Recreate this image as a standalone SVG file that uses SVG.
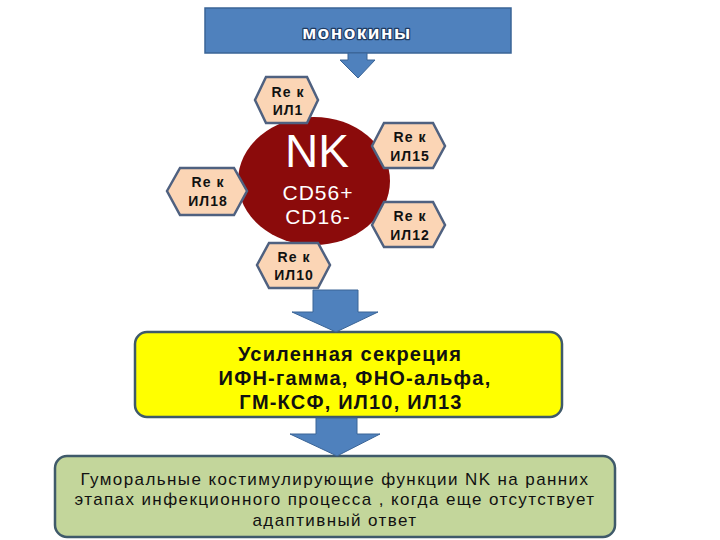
<svg xmlns="http://www.w3.org/2000/svg" width="720" height="540" viewBox="0 0 720 540">
<defs>
<style>
.arrow{fill:#4f81bd;stroke:#3a6496;stroke-width:1}
.hex{fill:#fbd5b5;stroke:#4f6180;stroke-width:2.5}
.hext{font-family:"Liberation Sans",Arial,sans-serif;font-weight:bold;font-size:14px;letter-spacing:1px;fill:#111;text-anchor:middle}
.box{font-family:"Liberation Sans",Arial,sans-serif;fill:#111;text-anchor:middle}
.cd{font-family:"Liberation Sans",Arial,sans-serif;font-size:21px;letter-spacing:1px;fill:#ffffff;text-anchor:middle}
</style>
</defs>
<rect width="720" height="540" fill="#ffffff"/>
<g id="monokines">
<rect x="205" y="8" width="306" height="45" fill="#4f81bd" stroke="#3a6496" stroke-width="1.5"/>
<text x="357" y="39" font-family="'Liberation Sans',Arial,sans-serif" font-weight="bold" font-size="19" letter-spacing="1.5" fill="#ffffff" stroke="#203c62" stroke-width="2.5" stroke-linejoin="round" paint-order="stroke" text-anchor="middle">монокины</text>
</g>
<g id="nk">
<ellipse cx="314" cy="181" rx="76" ry="64" fill="#8b0b0b"/>
<text x="317" y="167" font-family="'Liberation Sans',Arial,sans-serif" font-size="46" fill="#ffffff" text-anchor="middle">NK</text>
<text class="cd" x="318" y="200">CD56+</text>
<text class="cd" x="318" y="224">CD16-</text>
</g>
<g id="re-il1">
<polygon class="hex" points="255,100 266,77 307,77 318,100 307,123 266,123"/>
<text class="hext" x="288" y="97">Re к</text>
<text class="hext" x="288" y="115">ИЛ1</text>
</g>
<g id="re-il15">
<polygon class="hex" points="372,146 384,123 433,123 445,146 433,168 384,168"/>
<text class="hext" x="410" y="142">Re к</text>
<text class="hext" x="410" y="161">ИЛ15</text>
</g>
<g id="re-il18">
<polygon class="hex" points="167,191 180,168 234,168 247,191 234,215 180,215"/>
<text class="hext" x="208" y="187">Re к</text>
<text class="hext" x="208" y="206">ИЛ18</text>
</g>
<g id="re-il12">
<polygon class="hex" points="372,225 384,202 433,202 445,225 433,247 384,247"/>
<text class="hext" x="410" y="221">Re к</text>
<text class="hext" x="410" y="240">ИЛ12</text>
</g>
<g id="re-il10">
<polygon class="hex" points="257,265 269,243 318,243 330,265 318,288 269,288"/>
<text class="hext" x="294" y="262">Re к</text>
<text class="hext" x="294" y="280">ИЛ10</text>
</g>
<g id="secretion">
<rect x="135" y="332" width="427" height="85" rx="12" fill="#ffff00" stroke="#3f5a6a" stroke-width="2.5"/>
<text class="box" x="350" y="361" font-size="20" font-weight="bold" letter-spacing="1.2">Усиленная секреция</text>
<text class="box" x="355" y="385" font-size="20" font-weight="bold" letter-spacing="1.2">ИФН-гамма, ФНО-альфа,</text>
<text class="box" x="351" y="409" font-size="20" font-weight="bold" letter-spacing="1.2">ГМ-КСФ, ИЛ10, ИЛ13</text>
</g>
<g id="humoral">
<rect x="55" y="456" width="560" height="81" rx="12" fill="#c3d69b" stroke="#3f5a6a" stroke-width="2.5"/>
<text class="box" x="335" y="485" font-size="17" letter-spacing="1.4">Гуморальные костимулирующие функции NK на ранних</text>
<text class="box" x="335" y="505" font-size="17" letter-spacing="1.4">этапах инфекционного процесса , когда еще отсутствует</text>
<text class="box" x="335" y="526" font-size="17" letter-spacing="1.4">адаптивный ответ</text>
</g>
<g id="connectors">
<polygon class="arrow" points="348,53 367,53 367,60 375,60 358,78 340,60 348,60"/>
<polygon class="arrow" points="313,290 358,290 358,312 378,312 336,332 292,312 313,312"/>
<polygon class="arrow" points="316,418 357,418 357,434 380,434 337,456 290,434 316,434"/>
</g>
</svg>
